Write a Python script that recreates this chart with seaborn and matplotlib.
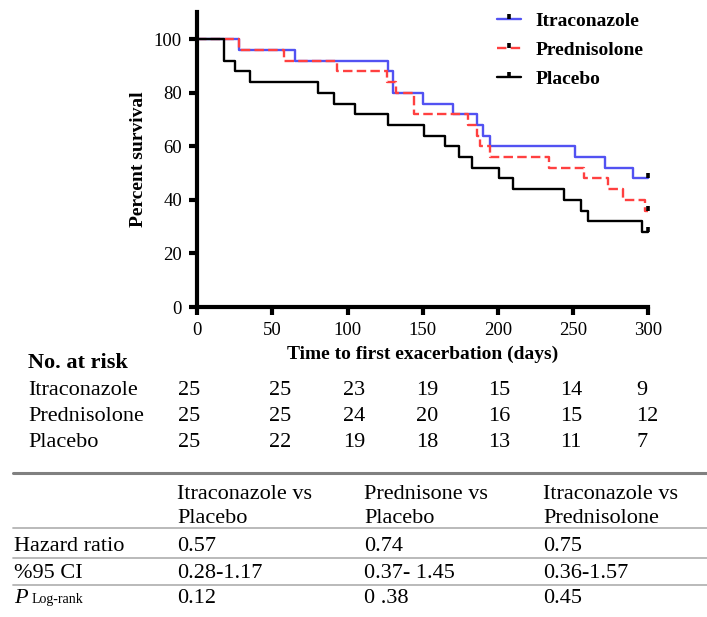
import pandas as pd
import matplotlib
matplotlib.use('Agg')
import matplotlib.pyplot as plt
from matplotlib.lines import Line2D
from matplotlib.path import Path
import seaborn as sns

# survival steps (days, percent survival)
itra_t = [0, 28, 65, 127, 130, 150, 170, 186, 190, 195, 251, 271, 290, 300]
itra_s = [100, 96, 92, 88, 80, 76, 72, 68, 64, 60, 56, 52, 48, 48]
pred_t = [0, 28, 58, 93, 126, 132, 144, 180, 186, 188, 195, 234, 257, 273, 283, 298, 300]
pred_s = [100, 96, 92, 88, 84, 80, 72, 68, 64, 60, 56, 52, 48, 44, 40, 36, 36]
plac_t = [0, 18, 25, 35, 80, 91, 105, 127, 151, 165, 174, 183, 201, 210, 244, 255, 260, 296, 300]
plac_s = [100, 92, 88, 84, 80, 76, 72, 68, 64, 60, 56, 52, 48, 44, 40, 36, 32, 28, 28]
groups = ['Itraconazole', 'Prednisolone', 'Placebo']

# number at risk
risk_days = [0, 50, 100, 150, 200, 250, 300]
risk_itra = [25, 25, 23, 19, 15, 14, 9]
risk_pred = [25, 25, 24, 20, 16, 15, 12]
risk_plac = [25, 22, 19, 18, 13, 11, 7]

# comparison table
cmp_headers = ['Itraconazole vs\nPlacebo', 'Prednisone vs\nPlacebo', 'Itraconazole vs\nPrednisolone']
hazard_ratio = ['0.57', '0.74', '0.75']
ci_95 = ['0.28-1.17', '0.37- 1.45', '0.36-1.57']
p_logrank = ['0.12', '0 .38', '0.45']

df = pd.concat([
    pd.DataFrame({'group': g, 'time': t, 'survival': s})
    for g, t, s in zip(groups, [itra_t, pred_t, plac_t], [itra_s, pred_s, plac_s])
])

sns.set_style('ticks')
plt.rcParams['font.family'] = ['Liberation Serif', 'DejaVu Serif']
plt.rcParams.update({'text.color': 'black', 'axes.labelcolor': 'black',
                     'xtick.color': 'black', 'ytick.color': 'black',
                     'axes.edgecolor': 'black'})

W, H = 707, 617
fig = plt.figure(figsize=(W / 100, H / 100), dpi=100)
ax = fig.add_axes([197.3 / W, 1 - 307 / H, 451 / W, 295.3 / H])

colors = {'Itraconazole': '#5252f2', 'Prednisolone': '#ff4040', 'Placebo': 'black'}
lstyles = {'Itraconazole': '-', 'Prednisolone': (0, (4, 1.8)), 'Placebo': '-'}
censor = Path([(0, 0), (0, 1)])

for g in groups:
    sub = df[df['group'] == g]
    sns.lineplot(data=sub, x='time', y='survival', ax=ax, color=colors[g],
                 linestyle=lstyles[g], lw=1.7, drawstyle='steps-post',
                 estimator=None, legend=False, clip_on=False)
    last = sub.iloc[-1]
    ax.plot(last['time'], last['survival'], marker=censor, ms=7, mec='black',
            mew=2.6, ls='none', clip_on=False, zorder=5)

ax.set_xlim(0, 300)
ax.set_ylim(0, 110.3)
ax.set_xticks(risk_days)
ax.set_yticks(range(0, 101, 20))
sns.despine(ax=ax)
for sp in ['left', 'bottom']:
    ax.spines[sp].set_linewidth(3)
    ax.spines[sp].set_color('black')
ax.tick_params(width=3, length=6, labelsize=13.5, pad=5, color='black', labelcolor='black')
ax.set_ylabel('Percent survival', fontsize=14, fontweight='bold', labelpad=5)
ax.set_xlabel('Time to first exacerbation (days)', fontsize=14, fontweight='bold', labelpad=4.5)

handles = [Line2D([], [], color=colors[g], linestyle=lstyles[g], lw=1.7,
                  marker=censor, ms=7, mec='black', mew=2.6) for g in groups]
ax.legend(handles, groups, loc='upper left', bbox_to_anchor=(497 / W, 1 - 12 / H),
          bbox_transform=fig.transFigure, frameon=False,
          prop={'weight': 'bold', 'size': 14}, handlelength=1.25,
          handletextpad=0.75, labelspacing=0.6, borderpad=0, borderaxespad=0)


def ftext(px, py, s, **kw):
    fig.text(px / W, 1 - py / H, s, va='baseline', color='black', **kw)


# number at risk block
ftext(28, 368, 'No. at risk', fontsize=16, fontweight='bold')
risk_cols = [178, 269, 343, 416, 488, 560, 636]
for lab, row, yb in zip(groups, [risk_itra, risk_pred, risk_plac], [395, 421, 447]):
    ftext(28, yb, lab, fontsize=16)
    for xc, n in zip(risk_cols, row):
        ftext(xc, yb, str(n), fontsize=16)

# hazard ratio table
fig.add_artist(Line2D([13 / W, 1], [1 - 473.3 / H] * 2, color='#808080', lw=2.2))
for yl in [528.3, 557.7, 585]:
    fig.add_artist(Line2D([13 / W, 1], [1 - yl / H] * 2, color='#b4b4b4', lw=1.3))

cols = [177, 364, 543]
for xc, head, hr, ci, p in zip(cols, cmp_headers, hazard_ratio, ci_95, p_logrank):
    l1, l2 = head.split('\n')
    ftext(xc, 499, l1, fontsize=16)
    ftext(xc, 522.7, l2, fontsize=16)
    ftext(xc, 550.7, hr, fontsize=16)
    ftext(xc, 577.7, ci, fontsize=16)
    ftext(xc, 603.3, p, fontsize=16)

ftext(14, 550.7, 'Hazard ratio', fontsize=16)
ftext(14, 577.7, '%95 CI', fontsize=16)
ftext(14, 603.3, 'P', fontsize=16, fontstyle='italic')
ftext(31.7, 603.3, 'Log-rank', fontsize=10)

fig.savefig('out.png', dpi=100)
